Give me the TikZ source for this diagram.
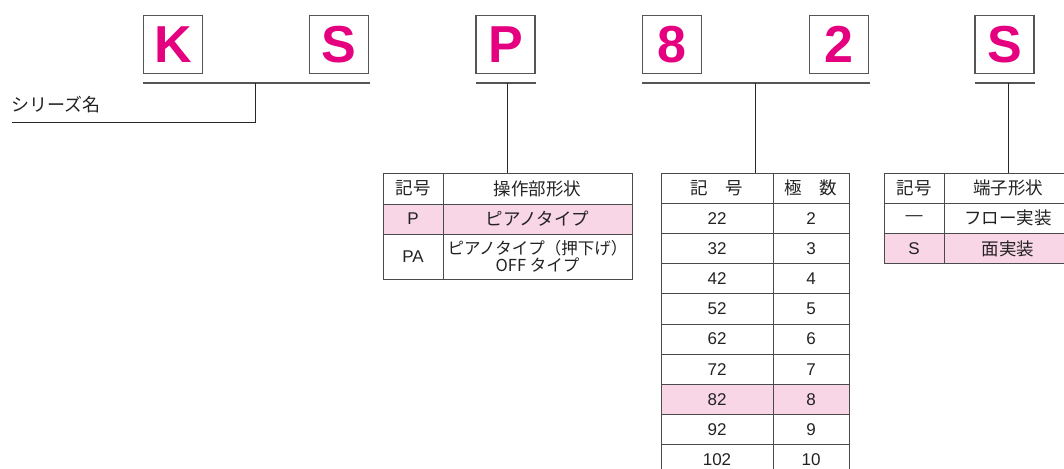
\documentclass[tikz,border=0pt]{standalone}
\usepackage{fontspec}
\setmainfont{Noto Sans CJK JP}
\newfontfamily\lat{Liberation Sans}
\newfontfamily\bigf{Liberation Sans}[BoldFont={Liberation Sans Bold}]
\definecolor{mag}{HTML}{E4007F}
\definecolor{pinkf}{HTML}{F8D6E5}
\definecolor{boxline}{HTML}{555555}
\definecolor{tline}{HTML}{4A4A4A}
\definecolor{txt}{HTML}{222222}
\begin{document}
\begin{tikzpicture}[x=1pt,y=-1pt,
  letter/.style={draw=boxline,line width=1.4pt,minimum width=59pt,minimum height=58pt,inner sep=0pt,text=mag,font=\bigf\bfseries\fontsize{52}{52}\selectfont},
  uline/.style={draw=boxline,line width=1.4pt},
  conn/.style={draw=black!85,line width=1pt},
  cell/.style={draw=tline,line width=1pt,inner sep=0pt,align=center,text=txt,font=\fontsize{17.5}{18}\selectfont},
  hl/.style={fill=pinkf},
  latc/.style={font=\lat\fontsize{17}{18}\selectfont}
]
\useasboundingbox (0,0) rectangle (1064,468);
\clip (0,0) rectangle (1064,468);
% letter boxes
\node[letter] (bK) at (173,44.5) {K};
\node[letter] (bS1) at (339,44.5) {S};
\node[letter] (bP) at (505.5,44.5) {P};
\node[letter] (b8) at (672,44.5) {8};
\node[letter] (b2) at (839,44.5) {2};
\node[letter] (bS2) at (1004.5,44.5) {S};
% underlines
\coordinate (u1a) at (143,83); \coordinate (u1b) at (370,83);
\coordinate (u2a) at (476,83); \coordinate (u2b) at (536,83);
\coordinate (u3a) at (642,83); \coordinate (u3b) at (870,83);
\coordinate (u4a) at (975,83); \coordinate (u4b) at (1035,83);
\draw[uline] (u1a) -- (u1b);
\draw[uline] (u2a) -- (u2b);
\draw[uline] (u3a) -- (u3b);
\draw[uline] (u4a) -- (u4b);
% series name
\coordinate (s1) at (255,83);
\coordinate (s2) at (12,122);
\node[anchor=base west,inner sep=0pt,text=txt,font=\fontsize{18}{18}\selectfont] (sname) at (11,111) {シリーズ名};
\draw[conn] (s1) |- (s2);
% P table
\node[cell,minimum width=60pt,minimum height=31pt] (p11) at (413,188.5) {記号};
\node[cell,minimum width=189pt,minimum height=31pt] (p12) at (537.5,188.5) {操作部形状};
\node[cell,hl,minimum width=60pt,minimum height=30pt,latc] (p21) at (413,219) {P};
\node[cell,hl,minimum width=189pt,minimum height=30pt] (p22) at (537.5,219) {ピアノタイプ};
\node[cell,minimum width=60pt,minimum height=45pt,latc] (p31) at (413,256.5) {PA};
\node[cell,minimum width=189pt,minimum height=45pt,font=\fontsize{16.5}{17}\selectfont] (p32) at (537.5,256.5) {ピアノタイプ（押下げ）\\OFF タイプ};
\coordinate (pc) at (507.5,83);
\draw[conn] (pc) -- (pc |- p12.north);
% middle table
\node[cell,minimum width=112pt,minimum height=30.2pt] (m0a) at (717,188.1) {記　号};
\node[cell,minimum width=76pt,minimum height=30.2pt] (m0b) at (811,188.1) {極　数};
\foreach \a/\b [count=\i] in {22/2,32/3,42/4,52/5,62/6,72/7,82/8,92/9,102/10}{
  \ifnum\i=7
    \node[cell,hl,latc,minimum width=112pt,minimum height=30.2pt] (m\i a) at (717,188.1+30.2*\i) {\a};
    \node[cell,hl,latc,minimum width=76pt,minimum height=30.2pt] (m\i b) at (811,188.1+30.2*\i) {\b};
  \else
    \node[cell,latc,minimum width=112pt,minimum height=30.2pt] (m\i a) at (717,188.1+30.2*\i) {\a};
    \node[cell,latc,minimum width=76pt,minimum height=30.2pt] (m\i b) at (811,188.1+30.2*\i) {\b};
  \fi
}
\coordinate (mc) at (755,83);
\draw[conn] (mc) -- (mc |- m0a.north);
% right table
\node[cell,minimum width=60pt,minimum height=30pt] (r11) at (914,188) {記号};
\node[cell,minimum width=128pt,minimum height=30pt] (r12) at (1008,188) {端子形状};
\node[cell,latc,minimum width=60pt,minimum height=30pt] (r21) at (914,218) {—};
\node[cell,minimum width=128pt,minimum height=30pt] (r22) at (1008,218) {フロー実装};
\node[cell,hl,latc,minimum width=60pt,minimum height=30.5pt] (r31) at (914,248.5) {S};
\node[cell,hl,minimum width=128pt,minimum height=30.5pt] (r32) at (1008,248.5) {面実装};
\coordinate (rc) at (1008,83);
\draw[conn] (rc) -- (rc |- r12.north);
\end{tikzpicture}
\end{document}
